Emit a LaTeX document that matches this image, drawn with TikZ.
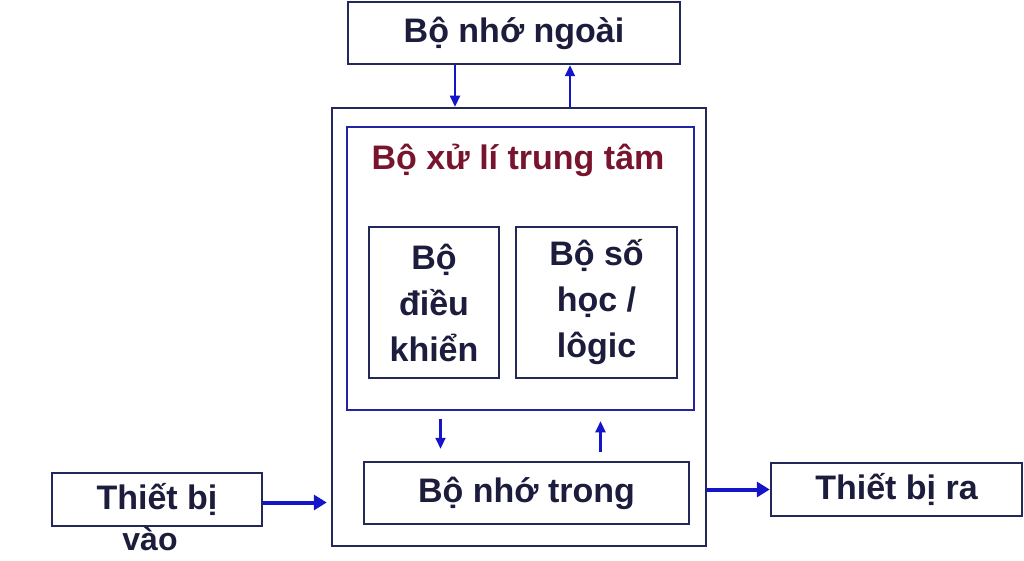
\documentclass[tikz,border=0pt]{standalone}
\usepackage{fontspec}
\setmainfont{Liberation Sans}
\usetikzlibrary{positioning,arrows.meta}

\definecolor{chu}{RGB}{28,28,60}
\definecolor{vien}{RGB}{35,40,90}
\definecolor{xanh}{RGB}{35,35,165}
\definecolor{muiten}{RGB}{20,20,200}
\definecolor{dodam}{RGB}{120,20,45}

\begin{document}
\begin{tikzpicture}[%
      x=1pt, y=-1pt,
      hop/.style={draw=vien, line width=2.5pt, text=chu, inner sep=0pt,
        align=center, font=\bfseries\fontsize{34}{46}\selectfont},
      chuthuong/.style={text=chu, inner sep=0pt,
        font=\bfseries\fontsize{34}{46}\selectfont},
      mui/.style={draw=muiten, line width=2.2pt, -{Triangle[length=11pt,width=10pt]}},
      muiday/.style={draw=muiten, line width=4pt, -{Triangle[length=13pt,width=15pt]}},
      ]
      \useasboundingbox (0,0) rectangle (1024,561);

      % bo nho ngoai
      \node[hop, minimum width=332, minimum height=62] (ngoai) at (514,33) {Bộ nhớ ngoài};

      % khung may tinh va CPU
      \node[draw=vien, line width=2.5pt, minimum width=374, minimum height=438] (khung) at (519,327) {};
      \node[draw=xanh, line width=2.5pt, minimum width=347, minimum height=283] (cpu) at (520.5,268.5) {};
      \node[chuthuong, text=dodam] (tieude) at (518,160) {Bộ xử lí trung tâm};
      \node[hop, minimum width=130, minimum height=151] (dieukhien) at (434,302.5) {Bộ\\điều\\khiển};
      \node[hop, minimum width=161, minimum height=151] (sohoc) at (596.5,302.5) {Bộ số\\học /\\lôgic};
      \node[hop, minimum width=325, minimum height=62] (trong) at (526.5,493) {Bộ nhớ trong};

      % thiet bi vao / ra
      \node[hop, minimum width=210, minimum height=53] (vao) at (157,499.5) {Thiết bị};
      \node[chuthuong, font=\bfseries\fontsize{32}{40}\selectfont] (vaochu) at (150,539) {vào};
      \node[hop, minimum width=251, minimum height=53] (ra) at (896.5,489.5) {Thiết bị ra};

      % mui ten
      \draw[mui] ([xshift=-59]ngoai.south) -- ([xshift=-59]ngoai.south |- khung.north);
      \draw[mui] ([xshift=56]ngoai.south |- khung.north) -- ([xshift=56]ngoai.south);
      \draw[mui, shorten <=8pt, shorten >=12pt] ([xshift=-80]cpu.south) -- ([xshift=-80]cpu.south |- trong.north);
      \draw[mui, shorten <=9pt, shorten >=10pt] ([xshift=80]cpu.south |- trong.north) -- ([xshift=80]cpu.south);
      \draw[muiday, shorten >=4pt] ([yshift=-3]vao.east) -- ([yshift=-3]vao.east -| khung.west);
      \draw[muiday] (khung.east |- ra.west) -- (ra.west);
\end{tikzpicture}
\end{document}
